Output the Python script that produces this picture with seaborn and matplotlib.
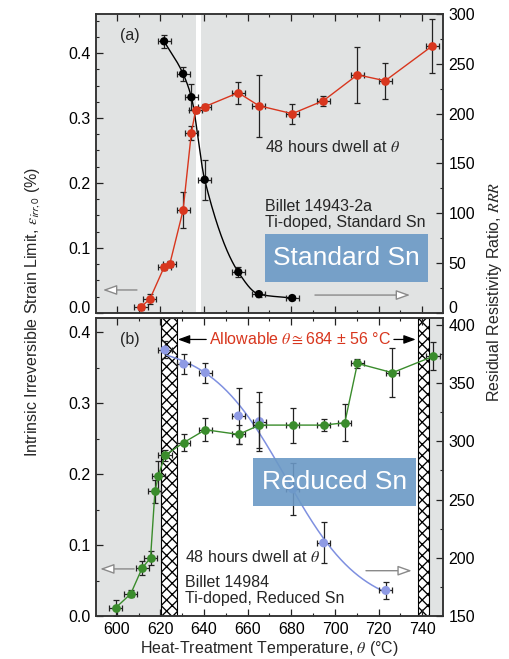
import numpy as np
import matplotlib
matplotlib.use("Agg")
import matplotlib.pyplot as plt
import seaborn as sns
from matplotlib.ticker import MultipleLocator, FormatStrFormatter
from matplotlib.patches import Rectangle

# ---- (a) Billet 14943-2a, Ti-doped, standard Sn ----
temp_a_strain = [621.7, 630.4, 634.2, 640.3, 655.7, 665.1, 680.4]
strain_a = [0.418, 0.368, 0.332, 0.205, 0.063, 0.029, 0.023]
strain_a_err = [0.010, 0.011, 0.020, 0.031, 0.008, 0.004, 0.003]

temp_a_rrr = [611.1, 615.2, 621.7, 624.3, 630.4, 634.2, 636.2, 640.3,
              655.7, 665.1, 680.4, 694.7, 710.3, 723.0, 744.6]
rrr_a = [6, 14, 46, 49, 103, 181, 204, 207, 221, 208, 200, 213, 239, 233, 268]
rrr_a_err = [3, 5, 3, 3, 18, 7, 3, 3, 11, 31, 10, 5, 28, 18, 27]

# ---- (b) Billet 14984, Ti-doped, reduced Sn ----
temp_b_strain = [622.1, 630.7, 640.6, 655.8, 665.4, 680.6, 694.8, 723.3]
strain_b = [0.375, 0.355, 0.343, 0.282, 0.274, 0.179, 0.103, 0.036]
strain_b_err = [0.012, 0.014, 0.014, 0.039, 0.042, 0.036, 0.029, 0.012]

temp_b_rrr = [599.5, 606.4, 611.6, 615.5, 617.5, 619.0, 622.1, 630.7, 640.6,
              655.8, 665.4, 680.6, 694.8, 704.5, 710.3, 726.3, 744.9]
rrr_b = [157, 169, 191, 200, 257, 270, 288, 299, 310, 306, 314, 314, 314,
         316, 367, 359, 373]
rrr_b_err = [7, 3, 6, 6, 10, 13, 5, 7, 10, 8, 20, 15, 5, 16, 4, 21, 12]

temp_err = 3.0  # ±°C on every heat-treatment temperature

# allowable window: 684 ± 56 °C, hatched bands at its limits
allow_center, allow_half = 684, 56
hatch_bands = [(620.5, 627.5), (738.0, 743.0)]
gap_a = (636.5, 638.8)

GRAY = "#e1e3e3"
RED = "#d8361e"
GREEN = "#3a8c2c"
BLUE_PT = "#8e9ae4"
BLUE_LN = "#7f90e0"
BOX = "#6b99c6"

sns.set_theme(style="ticks", rc={
    "axes.linewidth": 1.1,
    "axes.edgecolor": "#333333",
    "xtick.direction": "in", "ytick.direction": "in",
    "xtick.major.size": 5, "ytick.major.size": 5,
    "xtick.minor.size": 2.5, "ytick.minor.size": 2.5,
    "xtick.major.width": 0.9, "ytick.major.width": 0.9,
    "xtick.minor.width": 0.8, "ytick.minor.width": 0.8,
    "hatch.linewidth": 0.95,
})
plt.rcParams["font.family"] = ["Liberation Sans", "DejaVu Sans"]
plt.rcParams["mathtext.fontset"] = "stix"

FS_TICK = 11.5
FS_TXT = 11.5


def pchip_curve(x, y, n=300):
    """Shape-preserving (Fritsch-Carlson) cubic through the points."""
    x = np.asarray(x, float)
    y = np.asarray(y, float)
    h = np.diff(x)
    d = np.diff(y) / h
    m = np.zeros_like(y)
    for k in range(1, len(x) - 1):
        if d[k - 1] * d[k] > 0:
            w1 = 2 * h[k] + h[k - 1]
            w2 = h[k] + 2 * h[k - 1]
            m[k] = (w1 + w2) / (w1 / d[k - 1] + w2 / d[k])
    m[0] = d[0]
    m[-1] = d[-1]
    xs = np.linspace(x[0], x[-1], n)
    idx = np.clip(np.searchsorted(x, xs) - 1, 0, len(x) - 2)
    t = (xs - x[idx]) / h[idx]
    h00 = 2 * t**3 - 3 * t**2 + 1
    h10 = t**3 - 2 * t**2 + t
    h01 = -2 * t**3 + 3 * t**2
    h11 = t**3 - t**2
    ys = (h00 * y[idx] + h10 * h[idx] * m[idx]
          + h01 * y[idx + 1] + h11 * h[idx] * m[idx + 1])
    return xs, ys


def logistic_fit(x, y):
    """Least-squares fit of y = C + A / (1 + exp((x - t0) / w))."""
    x = np.asarray(x, float)
    y = np.asarray(y, float)
    best = None
    for t0 in np.arange(x.min(), x.max(), 0.25):
        for w in np.arange(1.0, 40.0, 0.25):
            s = 1.0 / (1.0 + np.exp((x - t0) / w))
            M = np.column_stack([s, np.ones_like(s)])
            coef = np.linalg.lstsq(M, y, rcond=None)[0]
            err = np.sum((M @ coef - y) ** 2)
            if best is None or err < best[0]:
                best = (err, t0, w, coef)
    _, t0, w, (A, C) = best
    xs = np.linspace(x.min(), x.max(), 300)
    return xs, C + A / (1.0 + np.exp((xs - t0) / w))


W, H = 510, 659


def frame(x0, y0, x1, y1):
    return [x0 / W, 1 - y1 / H, (x1 - x0) / W, (y1 - y0) / H]


fig = plt.figure(figsize=(W / 100, H / 100), dpi=100)
ax_a = fig.add_axes(frame(96, 14, 443, 313))
ax_b = fig.add_axes(frame(96, 318, 443, 616), sharex=ax_a)
ax_a2 = ax_a.twinx()
ax_b2 = ax_b.twinx()

ax_a.set_xlim(590.5, 749.5)
ax_a.set_ylim(0, 0.46)
ax_a2.set_ylim(0, 300)
ax_b.set_ylim(0, 0.42)
ax_b2.set_ylim(150, 406)

# backgrounds
ax_a.set_facecolor(GRAY)
ax_a.axvspan(*gap_a, color="white", lw=0, zorder=0)
ax_b.set_facecolor("white")
ax_b.axvspan(585, hatch_bands[0][0], color=GRAY, lw=0, zorder=0)
ax_b.axvspan(hatch_bands[1][1], 755, color=GRAY, lw=0, zorder=0)
for lo, hi in hatch_bands:
    ax_b.axvspan(lo, hi, facecolor="white", edgecolor="black",
                 hatch="xxx", lw=0.8, zorder=0.5)

ebar_kw = dict(fmt="none", ecolor="#222222", elinewidth=0.9,
               capsize=2.2, capthick=0.9)

# ---- panel (a) ----
xs, ys = pchip_curve(temp_a_strain, strain_a)
sns.lineplot(x=xs, y=ys, ax=ax_a, color="black", lw=1.0, zorder=2)
ax_a.errorbar(temp_a_strain, strain_a, yerr=strain_a_err, xerr=temp_err,
              zorder=3, **ebar_kw)
sns.scatterplot(x=temp_a_strain, y=strain_a, ax=ax_a, color="black",
                s=36, edgecolor="none", zorder=4)

ax_a2.errorbar(temp_a_rrr, rrr_a, yerr=rrr_a_err, xerr=temp_err,
               zorder=2, **ebar_kw)
sns.lineplot(x=temp_a_rrr, y=rrr_a, ax=ax_a2, color=RED, lw=1.0,
             marker="o", markersize=6.3, markeredgewidth=0, zorder=3)

# ---- panel (b) ----
xs, ys = logistic_fit(temp_b_strain, strain_b)
sns.lineplot(x=xs, y=ys, ax=ax_b, color=BLUE_LN, lw=1.1, zorder=2)
ax_b.errorbar(temp_b_strain, strain_b, yerr=strain_b_err, xerr=temp_err,
              zorder=3, **ebar_kw)
sns.scatterplot(x=temp_b_strain, y=strain_b, ax=ax_b, color=BLUE_PT,
                s=42, edgecolor="none", zorder=4)

ax_b2.errorbar(temp_b_rrr, rrr_b, yerr=rrr_b_err, xerr=temp_err,
               zorder=2, **ebar_kw)
sns.lineplot(x=temp_b_rrr, y=rrr_b, ax=ax_b2, color=GREEN, lw=1.0,
             marker="o", markersize=6.3, markeredgewidth=0, zorder=3)

# ---- ticks ----
for ax in (ax_a, ax_b):
    ax.xaxis.set_major_locator(MultipleLocator(20))
    ax.xaxis.set_minor_locator(MultipleLocator(10))
    ax.yaxis.set_major_locator(MultipleLocator(0.1))
    ax.tick_params(which="both", top=True, right=False, labelsize=FS_TICK,
                   colors="#222222", labelcolor="black", pad=4)
    ax.yaxis.set_major_formatter(FormatStrFormatter("%.1f"))
ax_a.yaxis.set_minor_locator(MultipleLocator(0.025))
ax_b.yaxis.set_minor_locator(MultipleLocator(0.05))
ax_a.tick_params(labelbottom=False)
for ax in (ax_a2, ax_b2):
    ax.yaxis.set_major_locator(MultipleLocator(50))
    ax.yaxis.set_minor_locator(MultipleLocator(25))
    ax.tick_params(which="both", labelsize=FS_TICK, colors="#222222",
                   labelcolor="black", pad=4)
for ax in (ax_a, ax_b, ax_a2, ax_b2):
    ax.set_xlabel("")
    ax.set_ylabel("")
    for sp in ax.spines.values():
        sp.set_linewidth(1.1)
        sp.set_color("#333333")


# ---- arrows pointing to each series' axis ----
def side_arrow(ax, x0, x1, y):
    ax.annotate("", xy=(x1, y), xytext=(x0, y), xycoords="axes fraction",
                arrowprops=dict(arrowstyle="-|>,head_length=0.7,head_width=0.25",
                                ec="#8a8a8a", fc="white", lw=1.0,
                                shrinkA=0, shrinkB=0), zorder=6)


side_arrow(ax_a2, 0.118, 0.02, 0.077)
side_arrow(ax_a2, 0.631, 0.905, 0.06)
side_arrow(ax_b2, 0.110, 0.012, 0.158)
side_arrow(ax_b2, 0.778, 0.91, 0.152)

# ---- annotations ----
for ax, tag in ((ax_a2, "(a)"), (ax_b2, "(b)")):
    ax.text(0.098, 0.928, tag, transform=ax.transAxes, fontsize=FS_TXT,
            ha="center", va="center", zorder=7)

ax_a2.text(0.487, 0.555, r"48 hours dwell at $\theta$", transform=ax_a2.transAxes,
           fontsize=FS_TXT, va="center", ha="left", zorder=7)
ax_a2.text(0.487, 0.355, "Billet 14943-2a", transform=ax_a2.transAxes,
           fontsize=FS_TXT, va="center", ha="left", zorder=7)
ax_a2.text(0.487, 0.304, "Ti-doped, Standard Sn", transform=ax_a2.transAxes,
           fontsize=FS_TXT, va="center", ha="left", zorder=7)

ax_b2.text(0.256, 0.198, r"48 hours dwell at $\theta$", transform=ax_b2.transAxes,
           fontsize=FS_TXT, va="center", ha="left", zorder=7)
ax_b2.text(0.256, 0.112, "Billet 14984", transform=ax_b2.transAxes,
           fontsize=FS_TXT, va="center", ha="left", zorder=7)
ax_b2.text(0.256, 0.060, "Ti-doped, Reduced Sn", transform=ax_b2.transAxes,
           fontsize=FS_TXT, va="center", ha="left", zorder=7)

# labelled boxes
for ax, (x0, y0, x1, y1), label in ((ax_a2, (0.487, 0.104, 0.957, 0.264), "Standard Sn"),
                                     (ax_b2, (0.453, 0.370, 0.922, 0.529), "Reduced Sn")):
    ax.add_patch(Rectangle((x0, y0), x1 - x0, y1 - y0, transform=ax.transAxes,
                           facecolor=BOX, edgecolor="none", alpha=0.9, zorder=8))
    ax.text((x0 + x1) / 2, (y0 + y1) / 2, label, transform=ax.transAxes,
            color="white", fontsize=19, ha="center", va="center", zorder=9)

# allowable heat-treatment window
tr = ax_b2.get_xaxis_transform()
ax_b2.text(allow_center, 0.928,
           r"Allowable $\theta\cong$" + f"{allow_center} ± {allow_half} °C",
           transform=tr, color="#d8361e", fontsize=11.5, ha="center", va="center",
           zorder=7)
arrow_kw = dict(arrowstyle="-|>,head_length=0.6,head_width=0.22", color="black",
                lw=0.9, shrinkA=0, shrinkB=0)
ax_b2.annotate("", xy=(allow_center - allow_half, 0.928), xytext=(641, 0.928),
               xycoords=tr, arrowprops=arrow_kw, zorder=7)
ax_b2.annotate("", xy=(allow_center + allow_half - 3, 0.928), xytext=(727, 0.928),
               xycoords=tr, arrowprops=arrow_kw, zorder=7)

# axis titles
fig.text(33 / W, 1 - 312 / H,
         r"Intrinsic Irreversible Strain Limit, $\varepsilon_{\mathsf{irr,0}}$ (%)",
         rotation=90, ha="center", va="center", fontsize=FS_TICK)
fig.text(495 / W, 1 - 292 / H,
         r"Residual Resistivity Ratio, $\mathit{RRR}$",
         rotation=90, ha="center", va="center", fontsize=FS_TICK)
fig.text(269.5 / W, 1 - 649 / H,
         r"Heat-Treatment Temperature, $\theta$ (°C)",
         ha="center", va="center", fontsize=FS_TICK)

# the zero labels of the upper panel sit on their tick so they clear the
# lower panel's top labels
fig.canvas.draw()
for tick in ax_a.yaxis.get_major_ticks():
    if abs(tick.get_loc()) < 1e-9:
        tick.label1.set_va("baseline")
for tick in ax_a2.yaxis.get_major_ticks():
    if abs(tick.get_loc()) < 1e-9:
        tick.label2.set_va("baseline")

fig.savefig("out.png", dpi=100)
